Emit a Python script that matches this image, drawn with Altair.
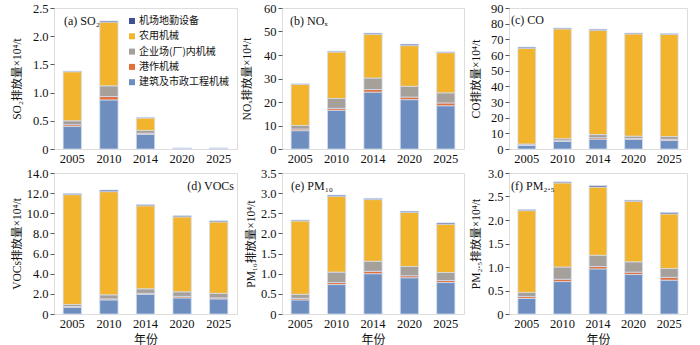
import altair as alt
import pandas as pd

years = ["2005", "2010", "2014", "2020", "2025"]
# stacking order, bottom -> top
categories = ["建筑及市政工程机械", "港作机械", "企业场(厂)内机械", "农用机械", "机场地勤设备"]
legend_order = ["机场地勤设备", "农用机械", "企业场(厂)内机械", "港作机械", "建筑及市政工程机械"]
legend_colors = ["#3f5196", "#f2b42d", "#a6a09b", "#e2703a", "#6d8ebf"]

# (a) SO2, 10^4 t, segments per category (bottom -> top)
so2_construction = [0.40, 0.87, 0.26, 0.005, 0.005]
so2_port = [0.03, 0.06, 0.02, 0.001, 0.001]
so2_enterprise = [0.07, 0.19, 0.05, 0.002, 0.002]
so2_agri = [0.87, 1.13, 0.22, 0.004, 0.004]
so2_airport = [0.01, 0.02, 0.01, 0.002, 0.002]

# (b) NOx
nox_construction = [7.8, 16.5, 24.2, 21.0, 18.4]
nox_port = [0.7, 0.8, 1.1, 1.1, 1.2]
nox_enterprise = [1.5, 4.2, 4.9, 4.6, 4.3]
nox_agri = [17.5, 19.8, 18.6, 17.3, 17.1]
nox_airport = [0.2, 0.3, 0.5, 0.6, 0.3]

# (c) CO
co_construction = [2.2, 4.8, 6.3, 6.2, 5.4]
co_port = [0.4, 0.5, 0.9, 0.5, 0.8]
co_enterprise = [0.6, 1.3, 2.0, 1.5, 1.8]
co_agri = [61.1, 70.1, 66.6, 65.3, 65.2]
co_airport = [0.7, 0.5, 0.6, 0.5, 0.4]

# (d) VOCs
voc_construction = [0.65, 1.40, 1.95, 1.60, 1.50]
voc_port = [0.10, 0.10, 0.10, 0.15, 0.10]
voc_enterprise = [0.20, 0.40, 0.45, 0.45, 0.45]
voc_agri = [10.90, 10.25, 8.25, 7.45, 7.10]
voc_airport = [0.10, 0.15, 0.10, 0.10, 0.10]

# (e) PM10
pm10_construction = [0.35, 0.73, 1.00, 0.90, 0.78]
pm10_port = [0.04, 0.05, 0.06, 0.05, 0.05]
pm10_enterprise = [0.10, 0.26, 0.25, 0.23, 0.20]
pm10_agri = [1.82, 1.88, 1.53, 1.34, 1.20]
pm10_airport = [0.02, 0.03, 0.03, 0.03, 0.03]

# (f) PM2.5
pm25_construction = [0.33, 0.69, 0.96, 0.84, 0.72]
pm25_port = [0.04, 0.05, 0.05, 0.05, 0.06]
pm25_enterprise = [0.09, 0.26, 0.24, 0.22, 0.19]
pm25_agri = [1.74, 1.79, 1.45, 1.29, 1.16]
pm25_airport = [0.02, 0.02, 0.03, 0.02, 0.03]

# axis tick values
so2_ticks = [0, 0.5, 1.0, 1.5, 2.0, 2.5]
nox_ticks = [0, 10, 20, 30, 40, 50, 60]
co_ticks = [0, 10, 20, 30, 40, 50, 60, 70, 80, 90]
voc_ticks = [0, 2, 4, 6, 8, 10, 12, 14]
pm10_ticks = [0, 0.5, 1.0, 1.5, 2.0, 2.5, 3.0, 3.5]
pm25_ticks = [0, 0.5, 1.0, 1.5, 2.0, 2.5, 3.0]

y_titles = ["SO₂排放量×10⁴/t", "NOₓ排放量×10⁴/t", "CO排放量×10⁴/t",
            "VOCs排放量×10⁴/t", "PM₁₀排放量×10⁴/t", "PM₂.₅排放量×10⁴/t"]
panel_labels = ["(a) SO₂", "(b) NOₓ", "(c) CO", "(d) VOCs", "(e) PM₁₀", "(f) PM₂.₅"]

series = [
    [so2_construction, so2_port, so2_enterprise, so2_agri, so2_airport],
    [nox_construction, nox_port, nox_enterprise, nox_agri, nox_airport],
    [co_construction, co_port, co_enterprise, co_agri, co_airport],
    [voc_construction, voc_port, voc_enterprise, voc_agri, voc_airport],
    [pm10_construction, pm10_port, pm10_enterprise, pm10_agri, pm10_airport],
    [pm25_construction, pm25_port, pm25_enterprise, pm25_agri, pm25_airport],
]
ticks = [so2_ticks, nox_ticks, co_ticks, voc_ticks, pm10_ticks, pm25_ticks]

# styling / layout (not data)
decimal = [True, False, False, True, True, True]
widths = [183, 182, 178, 183, 182, 178]
title_x = [-37, -35, -33, -37, -31, -33]
label_pos = [(10, 13, "left"), (8, 13, "left"), (2, 12, "left"),
             (180, 13, "right"), (9, 13, "left"), (2, 13, "left")]

SERIF = "Times New Roman, Liberation Serif, DejaVu Serif, serif"
MIXED = "Times New Roman, Liberation Serif, Noto Sans CJK SC, serif"
CJK = "Noto Sans CJK SC"
FRAME = "#595959"


def make_panel(i):
    rows = []
    for ci, cat in enumerate(categories):
        for yi, yr in enumerate(years):
            rows.append({"year": yr, "cat": cat, "ord": ci, "value": series[i][ci][yi]})
    df = pd.DataFrame(rows)
    bottom = i >= 3
    label_expr = ("datum.value == 0 ? '0' : format(datum.value, '.1f')" if decimal[i]
                  else "format(datum.value, 'd')")
    x_axis_kwargs = dict(labelAngle=0, ticks=False, domain=False, labelFont=SERIF,
                         labelFontSize=12.5, labelColor="#111", labelPadding=3)
    if bottom:
        x_axis = alt.Axis(title="年份", titleFont=CJK, titleFontSize=12,
                          titleFontWeight="normal", titleColor="#111", titleY=25,
                          titleBaseline="middle", **x_axis_kwargs)
    else:
        x_axis = alt.Axis(title=None, **x_axis_kwargs)

    if i == 0:
        legend = alt.Legend(title=None, orient="none", legendX=73, legendY=8,
                            symbolType="square", symbolSize=36, symbolStrokeWidth=0,
                            labelFont=CJK, labelFontSize=10,
                            labelColor="#111", labelOffset=2, rowPadding=5.3,
                            padding=0, labelLimit=300)
    else:
        legend = None

    bars = alt.Chart(df).mark_bar(stroke="#d3ddef", strokeWidth=0.8).encode(
        x=alt.X("year:N", sort=years,
                scale=alt.Scale(paddingInner=0.5, paddingOuter=0.25), axis=x_axis),
        y=alt.Y("value:Q", stack="zero",
                scale=alt.Scale(domain=[ticks[i][0], ticks[i][-1]], nice=False, zero=True),
                axis=alt.Axis(values=ticks[i], labelExpr=label_expr, grid=False,
                              domain=False, tickSize=4, tickColor=FRAME,
                              labelFont=SERIF, labelFontSize=12.5, labelColor="#111",
                              labelPadding=2, title=y_titles[i], titleFont=MIXED,
                              titleFontSize=11.5, titleFontWeight="normal",
                              titleColor="#111", titleX=title_x[i],
                              titleBaseline="middle")),
        color=alt.Color("cat:N", scale=alt.Scale(domain=legend_order, range=legend_colors),
                        legend=legend),
        order=alt.Order("ord:Q", sort="ascending"),
    )

    lx, ly, la = label_pos[i]
    label = alt.Chart(pd.DataFrame({"t": [panel_labels[i]]})).mark_text(
        font=MIXED, fontSize=12, color="#111", align=la, baseline="middle"
    ).encode(text="t:N", x=alt.value(lx), y=alt.value(ly))

    return alt.layer(bars, label).properties(width=widths[i], height=141)


panels = [make_panel(i) for i in range(6)]

chart = alt.concat(*panels, columns=3, spacing={"row": 24, "column": 45},
                   bounds="flush").resolve_scale(color="independent").properties(
    padding={"left": 10, "top": 1, "right": 5, "bottom": 1}
).configure_view(stroke=FRAME, strokeWidth=1).configure(background="white")

chart.save("out.html", embed_options={"renderer": "svg", "actions": False})
